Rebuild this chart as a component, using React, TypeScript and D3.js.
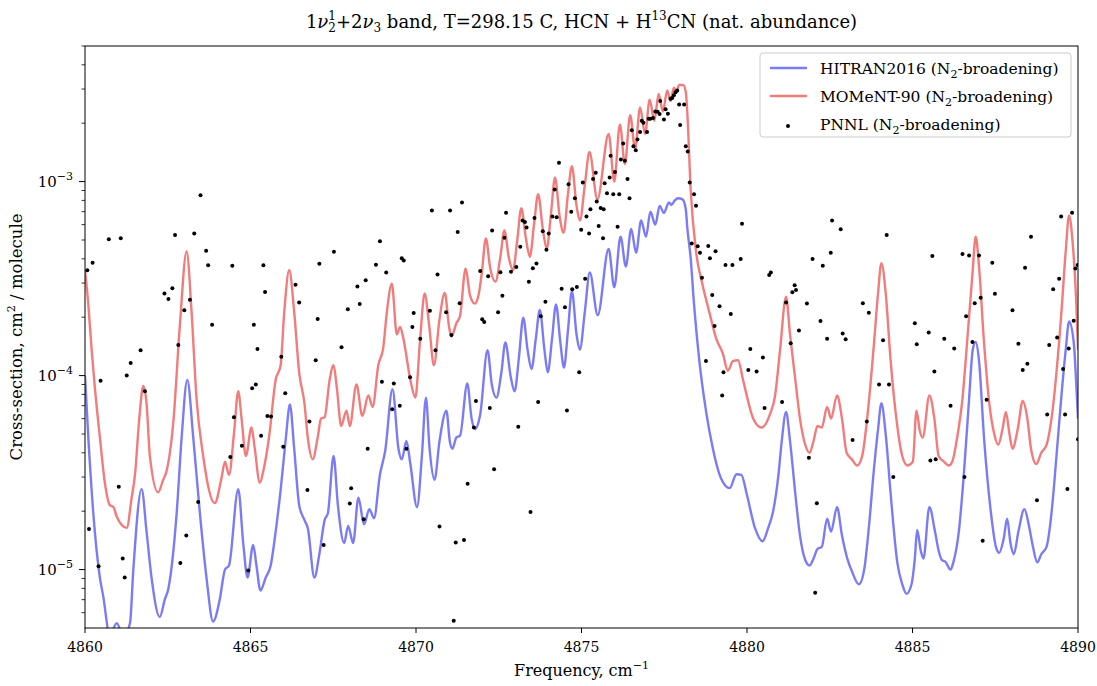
import React from "react";
import * as d3 from "d3";

const xTicks = [4860, 4865, 4870, 4875, 4880, 4885, 4890];
const yMajor = [1e-5, 1e-4, 1e-3];
const yMajorLabels = ["−5", "−4", "−3"];

const hitran: [number, number][] = [
  [4860.0, 1.0e-4], [4860.1, 4.8e-5], [4860.25, 1.96e-5], [4860.45, 9.1e-6], [4860.55, 7.3e-6],
  [4860.75, 4.6e-6], [4860.96, 5.3e-6], [4861.16, 4.5e-6], [4861.36, 5.3e-6], [4861.46, 1.0e-5],
  [4861.71, 2.6e-5], [4861.86, 1.57e-5], [4862.01, 9.1e-6], [4862.26, 5.7e-6], [4862.41, 7.0e-6],
  [4862.52, 8.0e-6], [4862.77, 1.96e-5], [4862.92, 4.8e-5], [4863.09, 9.5e-5], [4863.27, 4.8e-5],
  [4863.47, 1.96e-5], [4863.67, 9.1e-6], [4863.87, 5.4e-6], [4864.07, 7.0e-6], [4864.23, 1.0e-5],
  [4864.35, 1.05e-5], [4864.63, 2.6e-5], [4864.78, 1.37e-5], [4864.91, 9.1e-6], [4865.08, 1.34e-5],
  [4865.18, 1.05e-5], [4865.3, 7.8e-6], [4865.46, 9.1e-6], [4865.61, 1.05e-5], [4865.76, 1.57e-5],
  [4865.91, 2.57e-5], [4866.07, 4.8e-5], [4866.19, 7.1e-5], [4866.32, 4.2e-5], [4866.47, 2.15e-5],
  [4866.63, 1.8e-5], [4866.73, 1.64e-5], [4866.93, 9.1e-6], [4867.08, 1.2e-5], [4867.24, 1.8e-5],
  [4867.34, 1.96e-5], [4867.51, 3.85e-5], [4867.64, 2.15e-5], [4867.83, 1.37e-5], [4867.95, 1.68e-5],
  [4868.1, 1.37e-5], [4868.26, 2.35e-5], [4868.43, 1.71e-5], [4868.59, 2.05e-5], [4868.73, 1.84e-5],
  [4868.91, 3.08e-5], [4869.07, 4.1e-5], [4869.29, 8.5e-5], [4869.47, 4.2e-5], [4869.57, 3.7e-5],
  [4869.71, 4.6e-5], [4869.83, 3.5e-5], [4870.03, 2.1e-5], [4870.18, 3.9e-5], [4870.3, 7.7e-5],
  [4870.41, 4.2e-5], [4870.56, 2.9e-5], [4870.71, 4.6e-5], [4870.92, 6.6e-5], [4871.02, 4.6e-5],
  [4871.1, 4.2e-5], [4871.22, 4.8e-5], [4871.33, 4.9e-5], [4871.55, 9.1e-5], [4871.68, 6.0e-5],
  [4871.78, 5.3e-5], [4871.94, 6.3e-5], [4872.16, 1.35e-4], [4872.29, 9.0e-5], [4872.43, 7.7e-5],
  [4872.58, 1.04e-4], [4872.7, 1.48e-4], [4872.86, 9.9e-5], [4872.98, 8.3e-5], [4873.11, 1.24e-4],
  [4873.24, 1.99e-4], [4873.37, 1.36e-4], [4873.49, 1.08e-4], [4873.62, 1.55e-4], [4873.74, 2.18e-4],
  [4873.88, 1.36e-4], [4873.98, 1.04e-4], [4874.11, 1.55e-4], [4874.23, 2.33e-4], [4874.36, 1.49e-4],
  [4874.47, 1.1e-4], [4874.59, 1.7e-4], [4874.71, 2.72e-4], [4874.85, 1.63e-4], [4874.95, 1.36e-4],
  [4875.1, 2.13e-4], [4875.25, 3.4e-4], [4875.49, 2.05e-4], [4875.82, 4.5e-4], [4875.99, 2.85e-4],
  [4876.18, 5.2e-4], [4876.34, 3.65e-4], [4876.5, 5.7e-4], [4876.65, 4.3e-4], [4876.8, 6.3e-4],
  [4876.95, 5.2e-4], [4877.08, 7.0e-4], [4877.23, 6.0e-4], [4877.36, 7.5e-4], [4877.49, 6.9e-4],
  [4877.64, 7.8e-4], [4877.72, 7.6e-4], [4877.82, 8.0e-4], [4877.92, 8.2e-4], [4878.05, 8.1e-4],
  [4878.15, 7.2e-4], [4878.2, 5.7e-4], [4878.3, 4.0e-4], [4878.4, 2.33e-4], [4878.56, 1.19e-4],
  [4878.76, 6.6e-5], [4878.97, 4.2e-5], [4879.22, 2.94e-5], [4879.48, 2.63e-5], [4879.68, 3.1e-5],
  [4879.83, 3.08e-5], [4879.99, 2.46e-5], [4880.24, 1.64e-5], [4880.47, 1.4e-5],
  [4880.64, 1.64e-5], [4880.79, 2.0e-5], [4880.95, 3.08e-5], [4881.05, 4.6e-5], [4881.18, 6.5e-5],
  [4881.3, 4.6e-5], [4881.46, 2.46e-5], [4881.6, 1.5e-5], [4881.76, 1.12e-5], [4881.89, 1.05e-5],
  [4882.01, 1.14e-5], [4882.13, 1.28e-5], [4882.26, 1.31e-5], [4882.42, 1.83e-5], [4882.54, 1.57e-5],
  [4882.72, 2.1e-5], [4882.87, 1.5e-5], [4883.03, 1.14e-5], [4883.17, 9.8e-6], [4883.38, 8.4e-6],
  [4883.54, 1.0e-5], [4883.68, 1.64e-5], [4883.84, 3.37e-5], [4883.96, 5.3e-5], [4884.06, 7.2e-5],
  [4884.19, 5.0e-5], [4884.34, 2.46e-5], [4884.54, 1.09e-5], [4884.69, 8.4e-6], [4884.82, 7.5e-6],
  [4884.97, 8.4e-6], [4885.07, 1.14e-5], [4885.14, 1.6e-5], [4885.25, 1.25e-5], [4885.33, 1.14e-5],
  [4885.51, 2.1e-5], [4885.68, 1.57e-5], [4885.79, 1.25e-5], [4885.89, 1.12e-5], [4885.99, 1.1e-5],
  [4886.15, 1.0e-5], [4886.24, 1.1e-5], [4886.4, 1.57e-5], [4886.55, 3.08e-5], [4886.71, 7.6e-5],
  [4886.82, 1.36e-4], [4886.91, 1.49e-4], [4887.01, 1.19e-4], [4887.16, 4.8e-5], [4887.37, 1.96e-5],
  [4887.52, 1.31e-5], [4887.62, 1.22e-5], [4887.75, 1.43e-5], [4887.86, 1.83e-5], [4887.96, 1.37e-5],
  [4888.06, 1.2e-5], [4888.2, 1.57e-5], [4888.38, 2.05e-5], [4888.51, 1.71e-5], [4888.64, 1.31e-5],
  [4888.77, 1.09e-5], [4888.89, 1.2e-5], [4889.05, 1.31e-5], [4889.2, 1.96e-5], [4889.35, 3.85e-5],
  [4889.5, 7.9e-5], [4889.63, 1.36e-4], [4889.73, 1.9e-4], [4889.87, 1.49e-4], [4889.97, 7.6e-5],
  [4890.0, 6.0e-5],
];

const moment: [number, number][] = [
  [4860.0, 3.5e-4], [4860.1, 2.33e-4], [4860.2, 1.36e-4], [4860.3, 8.6e-5], [4860.45, 4.8e-5],
  [4860.6, 2.8e-5], [4860.75, 2.15e-5], [4860.86, 2.1e-5], [4860.96, 1.87e-5], [4861.26, 1.64e-5],
  [4861.41, 2.35e-5], [4861.51, 3.08e-5], [4861.64, 6.0e-5], [4861.76, 8.85e-5], [4861.86, 7.2e-5],
  [4861.96, 3.85e-5], [4862.21, 2.5e-5], [4862.36, 2.9e-5], [4862.46, 3.2e-5], [4862.67, 5.8e-5],
  [4862.87, 1.86e-4], [4863.07, 4.36e-4], [4863.22, 2.13e-4], [4863.37, 7.6e-5], [4863.57, 3.85e-5],
  [4863.92, 2.2e-5], [4864.12, 2.94e-5], [4864.23, 3.6e-5], [4864.35, 3.08e-5], [4864.5, 5.0e-5],
  [4864.63, 8.3e-5], [4864.73, 6.0e-5], [4864.86, 3.85e-5], [4865.03, 5.4e-5], [4865.13, 4.2e-5],
  [4865.28, 2.8e-5], [4865.4, 3.3e-5], [4865.56, 4.8e-5], [4865.76, 9.5e-5], [4865.91, 1.13e-4],
  [4866.02, 2.13e-4], [4866.17, 3.5e-4], [4866.32, 2.13e-4], [4866.47, 1.04e-4], [4866.63, 7.2e-5],
  [4866.73, 4.8e-5], [4866.88, 3.7e-5], [4867.03, 4.8e-5], [4867.13, 6.0e-5], [4867.24, 6.1e-5],
  [4867.39, 9.5e-5], [4867.51, 1.13e-4], [4867.61, 8.6e-5], [4867.74, 5.5e-5], [4867.9, 6.6e-5],
  [4868.0, 5.5e-5], [4868.2, 9.0e-5], [4868.38, 6.2e-5], [4868.56, 7.9e-5], [4868.69, 6.9e-5],
  [4868.86, 1.13e-4], [4869.01, 1.39e-4], [4869.12, 2.13e-4], [4869.27, 2.98e-4], [4869.42, 1.63e-4],
  [4869.52, 1.78e-4], [4869.62, 1.55e-4], [4869.83, 9.5e-5], [4869.98, 7.7e-5], [4870.12, 1.5e-4],
  [4870.26, 2.65e-4], [4870.4, 1.8e-4], [4870.54, 1.13e-4], [4870.71, 1.95e-4], [4870.87, 2.67e-4],
  [4871.0, 1.78e-4], [4871.07, 1.59e-4], [4871.22, 1.86e-4], [4871.33, 2.03e-4], [4871.5, 3.57e-4],
  [4871.63, 2.6e-4], [4871.78, 2.35e-4], [4871.89, 2.6e-4], [4871.99, 3.4e-4], [4872.11, 5.1e-4],
  [4872.24, 3.6e-4], [4872.4, 3.05e-4], [4872.55, 4.1e-4], [4872.67, 5.6e-4], [4872.81, 4.0e-4],
  [4872.93, 3.5e-4], [4873.06, 5.0e-4], [4873.18, 7.3e-4], [4873.32, 5.1e-4], [4873.44, 4.1e-4],
  [4873.57, 6.1e-4], [4873.69, 8.6e-4], [4873.83, 5.7e-4], [4873.95, 4.5e-4], [4874.08, 6.9e-4],
  [4874.2, 1.05e-3], [4874.34, 6.6e-4], [4874.46, 5.45e-4], [4874.59, 8.6e-4], [4874.71, 1.2e-3],
  [4874.85, 7.5e-4], [4874.95, 6.3e-4], [4875.1, 9.6e-4], [4875.24, 1.42e-3], [4875.48, 8.1e-4],
  [4875.82, 1.76e-3], [4875.99, 1.0e-3], [4876.16, 1.97e-3], [4876.31, 1.23e-3], [4876.47, 2.2e-3],
  [4876.62, 1.47e-3], [4876.77, 2.41e-3], [4876.92, 1.76e-3], [4877.06, 2.64e-3], [4877.2, 2.06e-3],
  [4877.33, 2.83e-3], [4877.46, 2.3e-3], [4877.59, 2.95e-3], [4877.69, 2.6e-3], [4877.79, 3.05e-3],
  [4877.86, 2.9e-3], [4877.95, 3.15e-3], [4878.07, 3.15e-3], [4878.15, 2.9e-3], [4878.2, 2.2e-3],
  [4878.3, 9.0e-4], [4878.46, 4.37e-4], [4878.66, 2.92e-4], [4878.86, 2.13e-4], [4879.07, 1.55e-4],
  [4879.27, 1.3e-4], [4879.42, 1.06e-4], [4879.58, 1.19e-4], [4879.73, 1.2e-4], [4879.88, 9.5e-5],
  [4880.19, 6.0e-5], [4880.44, 5.4e-5],
  [4880.69, 6.3e-5], [4880.85, 7.9e-5], [4881.0, 1.36e-4], [4881.18, 2.55e-4], [4881.3, 1.63e-4],
  [4881.46, 9.5e-5], [4881.6, 6.0e-5], [4881.76, 4.4e-5], [4881.89, 4.0e-5], [4882.01, 4.6e-5],
  [4882.13, 5.5e-5], [4882.26, 5.4e-5], [4882.42, 6.9e-5], [4882.54, 6.0e-5], [4882.72, 7.9e-5],
  [4882.87, 6.0e-5], [4883.01, 4.0e-5], [4883.17, 3.7e-5], [4883.33, 3.44e-5], [4883.48, 3.85e-5],
  [4883.63, 6.0e-5], [4883.84, 1.49e-4], [4883.96, 2.67e-4], [4884.06, 3.8e-4], [4884.19, 2.67e-4],
  [4884.34, 1.19e-4], [4884.54, 5.5e-5], [4884.69, 3.85e-5], [4884.85, 3.44e-5], [4885.01, 3.6e-5],
  [4885.12, 6.6e-5], [4885.22, 5.2e-5], [4885.31, 4.8e-5], [4885.51, 7.9e-5],
  [4885.66, 6.0e-5], [4885.79, 3.85e-5], [4885.95, 3.6e-5], [4886.09, 3.44e-5], [4886.2, 3.6e-5],
  [4886.35, 4.8e-5], [4886.51, 7.6e-5], [4886.65, 1.49e-4], [4886.81, 3.33e-4], [4886.91, 5.2e-4],
  [4887.01, 3.65e-4], [4887.16, 1.49e-4], [4887.32, 7.2e-5], [4887.47, 5.0e-5], [4887.59, 4.4e-5],
  [4887.72, 5.3e-5], [4887.82, 6.5e-5], [4887.93, 5.0e-5], [4888.02, 4.2e-5], [4888.18, 5.3e-5],
  [4888.33, 7.4e-5], [4888.47, 6.0e-5], [4888.58, 4.2e-5], [4888.74, 3.5e-5], [4888.89, 4.0e-5],
  [4889.05, 4.4e-5], [4889.2, 6.0e-5], [4889.35, 1.04e-4], [4889.5, 2.13e-4], [4889.63, 4.4e-4],
  [4889.73, 6.7e-4], [4889.84, 4.8e-4], [4889.94, 2.55e-4], [4890.0, 1.36e-4],
];

const pnnl: [number, number][] = [
  [4860.07, 3.49e-4], [4860.23, 3.82e-4], [4860.72, 5.05e-4], [4861.08, 5.1e-4], [4862.72, 5.3e-4],
  [4863.3, 5.4e-4], [4863.49, 8.5e-4], [4863.66, 4.4e-4], [4863.72, 3.7e-4], [4864.45, 3.68e-4],
  [4862.4, 2.65e-4], [4862.52, 2.48e-4], [4862.64, 2.82e-4], [4863.17, 2.46e-4], [4863.0, 2.17e-4],
  [4863.84, 1.83e-4], [4865.1, 1.83e-4], [4865.21, 1.37e-4], [4861.68, 1.35e-4], [4861.38, 1.16e-4],
  [4861.26, 1.0e-4], [4860.47, 9.4e-5], [4862.82, 1.44e-4], [4861.81, 8.3e-5], [4865.16, 9.0e-5],
  [4865.05, 8.6e-5], [4864.5, 6.1e-5], [4864.74, 4.35e-5], [4864.39, 3.8e-5], [4861.02, 2.67e-5],
  [4863.42, 2.23e-5], [4860.12, 1.62e-5], [4863.06, 1.5e-5], [4861.14, 1.14e-5], [4862.88, 1.08e-5],
  [4860.41, 1.04e-5], [4861.2, 9.1e-6], [4864.93, 9.9e-6],
  [4865.39, 3.7e-4], [4865.44, 2.7e-4], [4865.51, 6.2e-5], [4865.62, 6.15e-5], [4865.32, 4.9e-5],
  [4865.99, 4.3e-5], [4866.05, 8.1e-5], [4865.93, 1.25e-4], [4866.36, 2.94e-4], [4866.47, 2.38e-4],
  [4867.08, 3.77e-4], [4867.52, 4.35e-4], [4868.91, 4.93e-4], [4868.79, 3.73e-4], [4869.1, 3.4e-4],
  [4869.57, 4.03e-4], [4869.63, 3.92e-4], [4868.23, 2.88e-4], [4868.48, 3.1e-4], [4868.3, 2.34e-4],
  [4867.94, 2.2e-4], [4867.03, 1.96e-4], [4867.75, 1.4e-4], [4866.97, 1.2e-4], [4866.78, 5.8e-5],
  [4866.72, 2.57e-5], [4867.21, 1.34e-5], [4868.04, 2.63e-5], [4868.0, 2.19e-5], [4868.42, 1.82e-5],
  [4868.54, 4.2e-5], [4868.97, 9.3e-5], [4869.33, 9.1e-5], [4869.28, 6.7e-5], [4869.51, 7.0e-5],
  [4869.71, 4.2e-5], [4869.82, 9.8e-5], [4869.89, 1.78e-4], [4869.93, 2.1e-4], [4870.13, 1.55e-4],
  [4870.42, 2.16e-4],
  [4870.48, 7.1e-4], [4871.03, 7.1e-4], [4871.39, 7.8e-4], [4871.26, 5.5e-4], [4870.65, 3.32e-4],
  [4870.91, 2.12e-4], [4870.59, 1.35e-4], [4871.07, 1.62e-4], [4871.32, 2.36e-4], [4871.94, 3.46e-4],
  [4872.0, 1.95e-4], [4872.06, 1.89e-4], [4872.18, 3.25e-4], [4872.3, 5.6e-4], [4872.67, 5.14e-4],
  [4872.72, 6.9e-4], [4872.55, 3.41e-4], [4872.48, 2.12e-4], [4872.61, 2.58e-4], [4872.87, 3.43e-4],
  [4873.03, 3.63e-4], [4873.15, 4.61e-4], [4873.22, 6.3e-4], [4873.29, 6.2e-4], [4873.34, 5.8e-4],
  [4873.58, 6.5e-4], [4873.41, 3.05e-4], [4873.53, 3.58e-4], [4873.64, 3.78e-4], [4873.83, 5.55e-4],
  [4873.94, 4.45e-4], [4874.01, 5.4e-4], [4874.12, 6.6e-4], [4874.25, 6.55e-4], [4874.19, 9.1e-4],
  [4874.32, 1.25e-3], [4874.61, 9.7e-4], [4874.69, 7.0e-4], [4874.8, 8.2e-4], [4875.04, 9.9e-4],
  [4874.99, 5.65e-4], [4875.15, 6.6e-4], [4875.23, 5.4e-4], [4875.27, 7.2e-4], [4875.35, 1.03e-3],
  [4875.43, 1.11e-3], [4875.46, 7.9e-4], [4875.52, 5.9e-4], [4874.4, 2.8e-4], [4874.5, 2.25e-4],
  [4874.72, 2.79e-4], [4874.86, 2.86e-4], [4875.11, 3.16e-4], [4873.91, 2.4e-4], [4873.77, 2.02e-4],
  [4871.81, 7.4e-5], [4872.23, 6.8e-5], [4871.75, 5.4e-5], [4873.09, 5.45e-5], [4873.69, 7.3e-5],
  [4874.93, 1.04e-4], [4874.56, 6.6e-5], [4872.36, 3.29e-5], [4871.56, 2.77e-5], [4873.46, 1.98e-5],
  [4870.71, 1.67e-5], [4871.2, 1.38e-5], [4871.45, 1.42e-5], [4871.14, 5.45e-6],
  [4875.65, 5.1e-4], [4876.09, 5.85e-4], [4875.58, 7.3e-4], [4875.67, 7.2e-4], [4875.77, 8.7e-4],
  [4875.96, 8.6e-4], [4876.14, 8.6e-4], [4876.45, 8.2e-4], [4876.39, 1.03e-3], [4875.88, 1.36e-3],
  [4876.01, 1.12e-3], [4875.7, 9.8e-4], [4875.85, 1.05e-3], [4876.19, 1.3e-3], [4876.31, 1.28e-3],
  [4876.26, 1.57e-3], [4876.52, 1.84e-3], [4876.57, 1.52e-3], [4876.64, 1.45e-3], [4876.69, 1.65e-3],
  [4876.77, 1.8e-3], [4876.82, 2.06e-3], [4876.87, 2.01e-3], [4876.98, 1.8e-3], [4877.03, 2.11e-3],
  [4877.08, 2.11e-3], [4877.16, 2.13e-3], [4877.23, 2.3e-3], [4877.3, 2.29e-3], [4877.36, 2.23e-3],
  [4877.38, 2.6e-3], [4877.49, 2.09e-3], [4877.54, 2.36e-3], [4877.61, 2.24e-3], [4877.69, 2.67e-3],
  [4877.74, 2.7e-3], [4877.79, 2.79e-3], [4877.84, 2.89e-3], [4877.89, 2.95e-3], [4877.95, 2.5e-3],
  [4878.1, 2.5e-3], [4877.98, 1.96e-3], [4878.15, 1.52e-3], [4878.21, 1.43e-3], [4878.27, 9.9e-4],
  [4878.4, 8.6e-4], [4878.46, 7.5e-4], [4878.33, 4.8e-4], [4878.51, 4.64e-4], [4878.58, 4.3e-4],
  [4878.64, 3.19e-4], [4878.83, 4.65e-4], [4878.88, 4.03e-4], [4879.05, 4.37e-4], [4878.95, 2.6e-4],
  [4879.17, 2.28e-4], [4879.35, 3.72e-4], [4879.56, 3.72e-4], [4879.81, 3.99e-4], [4879.85, 6.07e-4],
  [4879.51, 2.08e-4], [4879.02, 1.8e-4], [4878.76, 1.19e-4], [4879.29, 1.04e-4], [4879.25, 7.9e-5],
  [4880.1, 1.37e-4], [4880.04, 1.07e-4], [4880.29, 1.05e-4], [4880.48, 1.24e-4], [4880.53, 6.8e-5],
  [4880.67, 3.3e-4], [4880.72, 3.4e-4], [4881.06, 7.3e-5], [4881.18, 2.38e-4], [4881.32, 1.47e-4],
  [4881.37, 2.69e-4], [4881.44, 2.92e-4], [4881.48, 2.76e-4], [4881.57, 1.71e-4], [4881.81, 2.35e-4],
  [4881.87, 3.77e-5], [4881.98, 3.99e-4], [4882.11, 2.2e-5], [4882.06, 7.6e-6], [4882.22, 1.91e-4],
  [4882.29, 3.68e-4], [4882.42, 1.55e-4], [4882.53, 4.3e-4], [4882.57, 6.3e-4], [4882.83, 5.68e-4],
  [4882.89, 1.65e-4], [4882.98, 1.54e-4], [4883.19, 4.66e-5], [4883.5, 2.36e-4], [4883.68, 2.11e-4],
  [4883.62, 5.8e-5], [4883.99, 9.0e-5], [4884.29, 9.0e-5], [4884.11, 1.52e-4], [4884.22, 5.3e-4],
  [4884.42, 3.0e-5], [4885.07, 1.86e-4], [4885.13, 1.45e-4], [4885.49, 1.67e-4],
  [4885.6, 4.14e-4], [4885.66, 1.05e-4], [4885.54, 3.65e-5], [4885.7, 3.7e-5], [4885.96, 1.55e-4],
  [4886.15, 7.0e-5], [4886.26, 1.38e-4], [4886.51, 4.23e-4], [4886.71, 4.16e-4], [4887.01, 4.16e-4],
  [4886.57, 3.0e-5], [4886.62, 2.02e-4], [4886.81, 1.49e-4], [4886.88, 2.36e-4], [4887.06, 2.52e-4],
  [4887.12, 1.41e-5], [4887.24, 7.5e-5], [4887.41, 3.82e-4], [4887.49, 2.64e-4], [4888.02, 2.17e-4],
  [4888.2, 1.46e-4], [4888.33, 1.07e-4], [4888.47, 1.15e-4], [4888.4, 3.6e-4], [4888.58, 5.2e-4],
  [4888.76, 2.28e-5], [4889.07, 6.3e-5], [4889.13, 1.44e-4], [4889.25, 2.79e-4], [4889.37, 1.57e-4],
  [4889.43, 3.16e-4], [4889.49, 6.6e-4], [4889.55, 1.08e-4], [4889.61, 6.3e-5], [4889.68, 2.6e-5],
  [4889.72, 1.38e-4], [4889.82, 6.9e-4], [4889.87, 1.92e-4], [4889.92, 3.57e-4], [4889.99, 3.72e-4],
  [4890.0, 4.7e-5],
];

const legendLabels = ["HITRAN2016 (N", "MOMeNT-90 (N", "PNNL (N"];

const W = 1097;
const H = 686;
const L = 85, R = 1078, T = 46, B = 628;
const FONT = "'DejaVu Serif', 'Liberation Serif', serif";
const BLUE = "#7b7bf5";
const RED = "#f27b7b";

export default function App() {
  const x = d3.scaleLinear().domain([4860, 4890]).range([L, R]);
  const y = d3.scaleLog().domain([5e-6, 5e-3]).range([B, T]);
  const line = d3
    .line<[number, number]>()
    .x((d) => x(d[0]))
    .y((d) => y(d[1]))
    .curve(d3.curveMonotoneX);

  const minor: number[] = [];
  for (const dec of [1e-6, 1e-5, 1e-4, 1e-3]) {
    for (let k = 2; k <= 9; k++) {
      const v = k * dec;
      if (v >= 5e-6 && v <= 5e-3) minor.push(v);
    }
  }

  const legendRows = [68, 96, 124];

  return (
    <svg
      width={W}
      height={H}
      style={{ position: "absolute", left: 0, top: 0, background: "#fff" }}
      fontFamily={FONT}
    >
      <defs>
        <clipPath id="plotclip">
          <rect x={L} y={T} width={R - L} height={B - T} />
        </clipPath>
      </defs>
      <rect x={0} y={0} width={W} height={H} fill="#fff" />

      <g clipPath="url(#plotclip)">
        <path d={line(hitran) || ""} fill="none" stroke={BLUE} strokeWidth={2.4} />
        <path d={line(moment) || ""} fill="none" stroke={RED} strokeWidth={2.4} />
        {pnnl.map((d, i) => (
          <circle key={i} cx={x(d[0])} cy={y(d[1])} r={2} fill="#000" />
        ))}
      </g>

      <rect x={L} y={T} width={R - L} height={B - T} fill="none" stroke="#000" strokeWidth={1} />

      {xTicks.map((t) => (
        <g key={t}>
          <line x1={x(t)} x2={x(t)} y1={B} y2={B + 5} stroke="#000" />
          <text x={x(t)} y={B + 24} textAnchor="middle" fontSize={14}>
            {t}
          </text>
        </g>
      ))}

      {minor.map((v) => (
        <line key={v} x1={L - 3.5} x2={L} y1={y(v)} y2={y(v)} stroke="#000" strokeWidth={0.8} />
      ))}
      {yMajor.map((v, i) => (
        <g key={v}>
          <line x1={L - 6} x2={L} y1={y(v)} y2={y(v)} stroke="#000" />
          <text x={L - 12} y={y(v) + 5} textAnchor="end" fontSize={15}>
            10<tspan fontSize={11} dy={-7}>{yMajorLabels[i]}</tspan>
          </text>
        </g>
      ))}

      <text x={(L + R) / 2} y={676} textAnchor="middle" fontSize={16}>
        Frequency, cm<tspan fontSize={11} dy={-7}>−1</tspan>
      </text>

      <text
        transform={`translate(22, ${(T + B) / 2}) rotate(-90)`}
        textAnchor="middle"
        fontSize={16.5}
      >
        Cross-section, cm<tspan fontSize={11} dy={-7}>2</tspan>
        <tspan dy={7}> / molecule</tspan>
      </text>

      <text x={(L + R) / 2} y={28} textAnchor="middle" fontSize={18}>
        1<tspan fontStyle="italic">ν</tspan>
        <tspan fontSize={12} dy={-8}>1</tspan>
        <tspan fontSize={12} dx={-7.6} dy={12}>2</tspan>
        <tspan dy={-4}>+2</tspan>
        <tspan fontStyle="italic">ν</tspan>
        <tspan fontSize={12} dy={4}>3</tspan>
        <tspan dy={-4}> band, T=298.15 C, HCN + H</tspan>
        <tspan fontSize={12} dy={-8}>13</tspan>
        <tspan dy={8}>CN (nat. abundance)</tspan>
      </text>

      <rect x={760} y={53} width={311} height={84} rx={3} fill="#fff" fillOpacity={0.8} stroke="#cccccc" />
      {legendRows.map((ry, i) => (
        <g key={i}>
          {i < 2 ? (
            <line x1={770} x2={807} y1={ry} y2={ry} stroke={i === 0 ? BLUE : RED} strokeWidth={2.4} />
          ) : (
            <circle cx={788} cy={ry + 2} r={2} fill="#000" />
          )}
          <text x={820} y={ry + 6} fontSize={15.5}>
            {legendLabels[i]}
            <tspan fontSize={11} dy={4}>2</tspan>
            <tspan dy={-4}>-broadening)</tspan>
          </text>
        </g>
      ))}
    </svg>
  );
}
